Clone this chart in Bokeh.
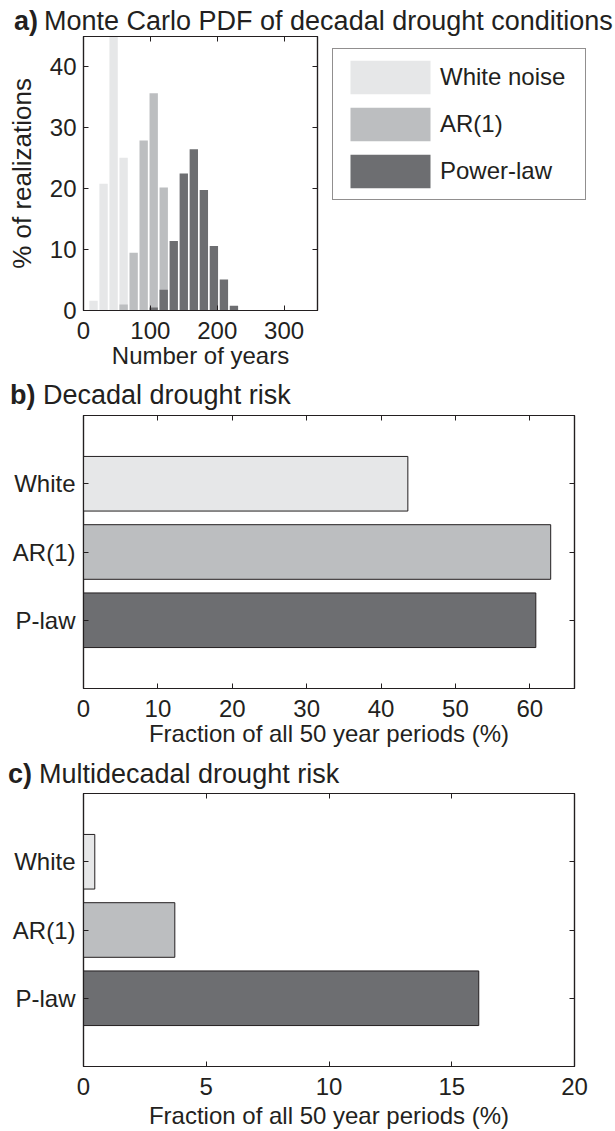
from bokeh.embed import file_html
from bokeh.layouts import column
from bokeh.models import Div, FixedTicker, Legend, LegendItem, LinearAxis, Range1d
from bokeh.plotting import figure
from bokeh.resources import INLINE

FONT = "Liberation Sans"
INK = "#231f20"
GREY_WHITE = "#e6e7e8"
GREY_AR1 = "#bcbec0"
GREY_PLAW = "#6d6e71"
WIDTH = 615

# ---- a) Monte Carlo PDF: % of realizations per 15-year bin ----
white_bins = [15, 30, 45, 60]
white_pct = [1.6, 20.8, 52.5, 25.1]
ar1_bins = [60, 75, 90, 105, 120]
ar1_pct = [1.0, 9.5, 27.9, 35.7, 20.2]
plaw_bins = [105, 120, 135, 150, 165, 180, 195, 210, 225]
plaw_pct = [0.5, 3.4, 11.4, 22.5, 26.5, 19.8, 10.6, 5.1, 0.8]
legend_names = ["White noise", "AR(1)", "Power-law"]

# ---- b) and c) drought risk per noise model ----
models = ["White", "AR(1)", "P-law"]
decadal_risk = [43.6, 62.8, 60.8]
multidecadal_risk = [0.46, 3.72, 16.1]

model_colors = [GREY_WHITE, GREY_AR1, GREY_PLAW]


def style_axis(ax, size="24px", standoff=11):
    ax.major_tick_in = 5
    ax.major_tick_out = 0
    ax.minor_tick_line_color = None
    ax.axis_line_color = INK
    ax.axis_line_width = 1.2
    ax.major_tick_line_color = INK
    ax.major_tick_line_width = 1
    ax.major_label_text_font = FONT
    ax.major_label_text_font_size = size
    ax.major_label_text_color = INK
    ax.major_label_standoff = standoff
    ax.axis_label_text_font = FONT
    ax.axis_label_text_font_style = "normal"
    ax.axis_label_text_color = INK
    ax.axis_label_text_font_size = "24px"


def mirror_axis(p, ticks, side):
    ax = LinearAxis(ticker=FixedTicker(ticks=ticks))
    style_axis(ax, size="0px", standoff=0)
    ax.major_label_overrides = {t: "" for t in ticks}
    p.add_layout(ax, side)


def make_fig(frame_w, frame_h, bottom, right, x_range, y_range):
    p = figure(frame_width=frame_w, frame_height=frame_h,
               x_range=x_range, y_range=y_range,
               min_border_left=83, min_border_right=right,
               min_border_top=0, min_border_bottom=bottom,
               output_backend="svg", toolbar_location=None)
    p.grid.visible = False
    p.outline_line_color = INK
    p.outline_line_width = 1.2
    p.background_fill_color = "white"
    p.border_fill_color = "white"
    return p


def heading(height, letter, title, x_letter, x_title, top):
    """Panel heading: bold panel letter followed by the panel title."""
    span = ("position:absolute;top:{top}px;left:{left}px;white-space:nowrap;"
            "font-family:'Liberation Sans';font-size:27px;line-height:1;"
            "color:" + INK + ";font-weight:{weight}")
    html = ('<span style="' + span.format(top=top, left=x_letter, weight="bold") + '">'
            + letter + '</span>'
            '<span style="' + span.format(top=top, left=x_title, weight="normal") + '">'
            + title + '</span>')
    return Div(text=html, width=WIDTH, height=height, margin=(0, 0, 0, 0),
               styles={"position": "relative", "overflow": "visible"})


# ------------------------------------------------------------------ panel a
head_a = heading(36, "a)", "Monte Carlo PDF of decadal drought conditions", 14, 44, 8)

pa = make_fig(234, 274, 66, 298, Range1d(0, 350), Range1d(0, 45))
r_white = pa.vbar(x=white_bins, top=white_pct, width=12.5, fill_color=GREY_WHITE, line_color=None)
r_ar1 = pa.vbar(x=ar1_bins, top=ar1_pct, width=12.5, fill_color=GREY_AR1, line_color=None)
r_plaw = pa.vbar(x=plaw_bins, top=plaw_pct, width=12.5, fill_color=GREY_PLAW, line_color=None)

pa.xaxis.ticker = FixedTicker(ticks=[0, 100, 200, 300])
pa.yaxis.ticker = FixedTicker(ticks=[0, 10, 20, 30, 40])
style_axis(pa.xaxis[0], standoff=11)
style_axis(pa.yaxis[0], standoff=7)
pa.xaxis.axis_label = "Number of years"
pa.xaxis.axis_label_standoff = 0
pa.yaxis.axis_label = "% of realizations"
pa.yaxis.axis_label_standoff = 10
pa.yaxis.axis_label_text_font_size = "26px"
mirror_axis(pa, [0, 100, 200, 300], "above")
mirror_axis(pa, [0, 10, 20, 30, 40], "right")

legend = Legend(items=[LegendItem(label=n, renderers=[r]) for n, r in
                       zip(legend_names, [r_white, r_ar1, r_plaw])],
                location=(-185, 110), orientation="vertical",
                glyph_width=100, glyph_height=42, spacing=5, padding=7,
                label_standoff=0, label_width=138, margin=0,
                label_text_font=FONT, label_text_font_size="24px", label_text_color=INK,
                border_line_color=INK, border_line_width=1.2,
                background_fill_color="white", background_fill_alpha=1)
pa.add_layout(legend, "right")


# ------------------------------------------------------------ panels b, c
def risk_panel(values, xmax, xticks, bottom, label_standoff):
    p = make_fig(491, 273, bottom, 41, Range1d(0, xmax), Range1d(4, 0))
    p.hbar(y=[1, 2, 3], right=values, left=0, height=0.8,
           fill_color=model_colors, line_color=INK, line_width=1)
    p.xaxis.ticker = FixedTicker(ticks=xticks)
    p.yaxis.ticker = FixedTicker(ticks=[1, 2, 3])
    p.yaxis.major_label_overrides = {i + 1: m for i, m in enumerate(models)}
    style_axis(p.xaxis[0], standoff=11)
    style_axis(p.yaxis[0], standoff=8)
    p.xaxis.axis_label = "Fraction of all 50 year periods (%)"
    p.xaxis.axis_label_standoff = label_standoff
    mirror_axis(p, xticks, "above")
    mirror_axis(p, [1, 2, 3], "right")
    return p


head_b = heading(39, "b)", "Decadal drought risk", 10, 43, 6)
pb = risk_panel(decadal_risk, 66, [0, 10, 20, 30, 40, 50, 60], 73, 0)
head_c = heading(32, "c)", "Multidecadal drought risk", 8, 39, 0)
pc = risk_panel(multidecadal_risk, 20, [0, 5, 10, 15, 20], 64, 4)

layout = column(head_a, pa, head_b, pb, head_c, pc, spacing=0)
open("out.html", "w").write(file_html(layout, INLINE))
